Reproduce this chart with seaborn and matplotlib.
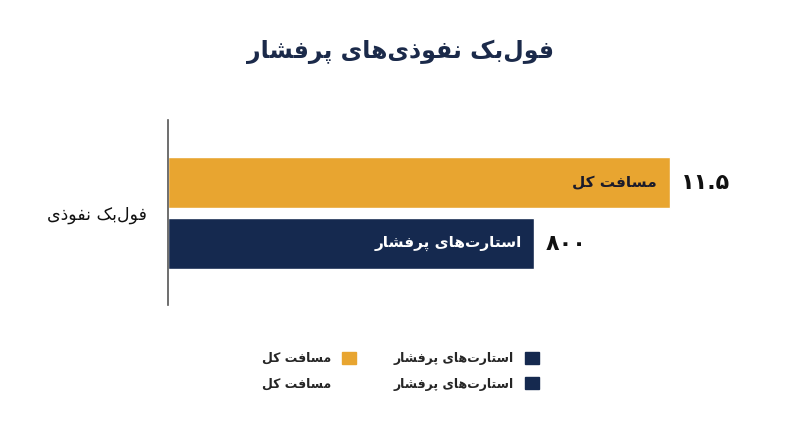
import matplotlib
matplotlib.use('Agg')
import matplotlib.pyplot as plt
from matplotlib.patches import Patch
import pandas as pd
import seaborn as sns

# ── Data ──────────────────────────────────────────────────────────────────────
category    = 'فول‌بک نفوذی'
series      = ['مسافت کل', 'استارت‌های پرفشار']
values      = [11.5, 800]          # printed values
bar_lengths = [100, 73]            # normalised bar length (%)
colors      = ['#E8A530', '#15294F']
title       = 'فول‌بک نفوذی‌های پرفشار'

# ── Minimal Persian shaping (matplotlib has no complex text layout) ─────────
FORMS = {
    'ا': ('\uFE8D', '\uFE8E', None, None),
    'ب': ('\uFE8F', '\uFE90', '\uFE91', '\uFE92'),
    'پ': ('\uFB56', '\uFB57', '\uFB58', '\uFB59'),
    'ت': ('\uFE95', '\uFE96', '\uFE97', '\uFE98'),
    'ذ': ('\uFEAB', '\uFEAC', None, None),
    'ر': ('\uFEAD', '\uFEAE', None, None),
    'س': ('\uFEB1', '\uFEB2', '\uFEB3', '\uFEB4'),
    'ش': ('\uFEB5', '\uFEB6', '\uFEB7', '\uFEB8'),
    'ف': ('\uFED1', '\uFED2', '\uFED3', '\uFED4'),
    'ک': ('\uFB8E', '\uFB8F', '\uFB90', '\uFB91'),
    'ل': ('\uFEDD', '\uFEDE', '\uFEDF', '\uFEE0'),
    'م': ('\uFEE1', '\uFEE2', '\uFEE3', '\uFEE4'),
    'ن': ('\uFEE5', '\uFEE6', '\uFEE7', '\uFEE8'),
    'ه': ('\uFEE9', '\uFEEA', '\uFEEB', '\uFEEC'),
    'و': ('\uFEED', '\uFEEE', None, None),
    'ی': ('\uFBFC', '\uFBFD', '\uFBFE', '\uFBFF'),
}

def dual(c):
    return c in FORMS and FORMS[c][2] is not None

def fa(text):
    out = []
    for i, c in enumerate(text):
        if c not in FORMS:
            if c != '\u200c':
                out.append(c)
            continue
        prev = text[i - 1] if i > 0 else ''
        nxt = text[i + 1] if i + 1 < len(text) else ''
        join_prev = dual(prev)
        join_next = dual(c) and nxt in FORMS
        iso, fin, ini, med = FORMS[c]
        if join_prev and join_next:
            out.append(med)
        elif join_prev:
            out.append(fin)
        elif join_next:
            out.append(ini)
        else:
            out.append(iso)
    return ''.join(reversed(out))

def fa_num(v):
    s = f'{v:g}'
    return s.translate(str.maketrans('0123456789', '۰۱۲۳۴۵۶۷۸۹'))

# ── Plot ──────────────────────────────────────────────────────────────────────
sns.set_style('white')
plt.rcParams['font.family'] = ['DejaVu Sans']

df = pd.DataFrame({'cat': [category] * len(series), 'series': series, 'len': bar_lengths})

fig = plt.figure(figsize=(8, 4.47), dpi=100)
ax = fig.add_axes([0.21, 0.3177, 0.74, 0.4139])
sns.barplot(data=df, x='len', y='cat', hue='series', hue_order=series,
            palette=colors, orient='h', gap=0.165, legend=False, ax=ax,
            saturation=1)

ax.set_xlim(0, 118)
ax.set_ylim(0.6, -0.61)
ax.set_xlabel(''); ax.set_ylabel('')
ax.set_xticks([])
ax.set_yticks([0])
ax.set_yticklabels([fa(category)], fontsize=12.5, color='#111111')
ax.tick_params(axis='y', length=0, pad=15)
for s in ['top', 'right', 'bottom']:
    ax.spines[s].set_visible(False)
ax.spines['left'].set_color('#555555')
ax.spines['left'].set_linewidth(1.2)

text_colors = ['#1b1b2a', 'white']
for bar, name, val, tc in zip(ax.patches, series, values, text_colors):
    yc = bar.get_y() + bar.get_height() / 2
    end = bar.get_width()
    ax.annotate(fa(name), (end, yc), xytext=(-9, 0), textcoords='offset points',
                ha='right', va='center', fontsize=11, fontweight='bold', color=tc)
    ax.annotate(fa_num(val), (end, yc), xytext=(8, 0), textcoords='offset points',
                ha='left', va='center', fontsize=16, fontweight='bold', color='#111111')

fig.text(0.5, 0.884, fa(title), ha='center', va='center', fontsize=17,
         fontweight='bold', color='#1b2a4a')

handles = [Patch(color=colors[0]), Patch(facecolor='none', edgecolor='none'),
           Patch(color=colors[1]), Patch(color=colors[1])]
labels = [fa(series[0]), fa(series[0]), fa(series[1]), fa(series[1])]
fig.legend(handles, labels, ncol=2, loc='center', bbox_to_anchor=(0.5, 0.17),
           frameon=False, markerfirst=False, handlelength=1.1, handleheight=1.1,
           columnspacing=3.0, handletextpad=0.9, labelspacing=1.0,
           prop={'size': 9, 'weight': 'bold'})

fig.savefig('out.png', dpi=100, facecolor='white')
